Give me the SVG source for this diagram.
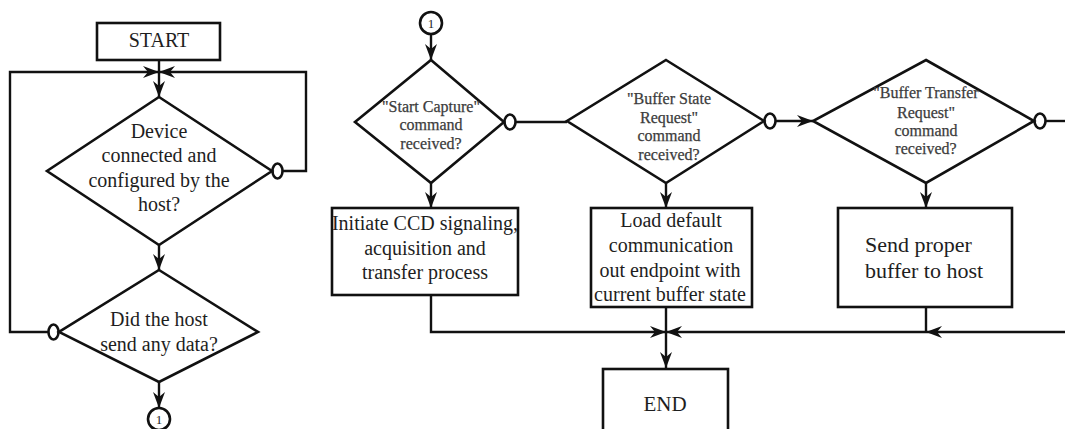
<svg xmlns="http://www.w3.org/2000/svg" width="1065" height="429" viewBox="0 0 1065 429">
<style>
.shape{fill:none;stroke:#111;stroke-width:2.6}
.line{fill:none;stroke:#111;stroke-width:2.4}
.t{font-family:"Liberation Serif","Times New Roman",serif;font-size:20px;fill:#1e1e1e;text-anchor:middle}
.s{font-family:"Liberation Serif","Times New Roman",serif;font-size:16px;fill:#3c3c3c;text-anchor:middle;stroke:#3c3c3c;stroke-width:0.25}
.b{font-size:22px}
</style>
<defs>
<marker id="arr" viewBox="0 0 16 12" refX="16" refY="6" markerWidth="16" markerHeight="12" markerUnits="userSpaceOnUse" orient="auto">
<path d="M0,0 L16,6 L0,12 L5,6 Z" fill="#111"/>
</marker>
</defs>
<rect width="1065" height="429" fill="#fff"/>
<g id="start"><rect class="shape" x="97" y="23" width="123" height="37"/><text class="t" x="159" y="47">START</text></g>
<g id="d1"><polygon class="shape" points="159,97 272,171 159,245 47,171"/>
<text class="t" x="159" y="138">Device</text><text class="t" x="159" y="162">connected and</text><text class="t" x="159" y="187">configured by the</text><text class="t" x="159" y="211">host?</text></g>
<g id="d2"><polygon class="shape" points="159,270 258,332 159,382 59,332"/>
<text class="t" x="159" y="326">Did the host</text><text class="t" x="159" y="351">send any data?</text></g>
<g id="c1"><circle class="shape" cx="159" cy="419" r="11"/><text class="t" x="159" y="424" style="font-size:13px">1</text></g>
<g id="c2"><circle class="shape" cx="431" cy="23" r="11"/><text class="t" x="431" y="28" style="font-size:13px">1</text></g>
<g id="d3"><polygon class="shape" points="431,60 504,122 431,183 355,122"/>
<text class="s" x="431" y="112">"Start Capture"</text><text class="s" x="431" y="130">command</text><text class="s" x="431" y="149">received?</text></g>
<g id="d4"><polygon class="shape" points="666,60 764,121 666,183 567,121"/>
<text class="s" x="669" y="104">"Buffer State</text><text class="s" x="669" y="123">Request"</text><text class="s" x="669" y="141">command</text><text class="s" x="669" y="160">received?</text></g>
<g id="d5"><polygon class="shape" points="926,60 1034,121 926,183 813,121"/>
<text class="s" x="926" y="98">"Buffer Transfer</text><text class="s" x="926" y="118">Request"</text><text class="s" x="926" y="136">command</text><text class="s" x="926" y="154">received?</text></g>
<g id="r1"><rect class="shape" x="332" y="208" width="186" height="87"/>
<text class="t" x="425" y="230">Initiate CCD signaling,</text><text class="t" x="425" y="255">acquisition and</text><text class="t" x="425" y="279">transfer process</text></g>
<g id="r2"><rect class="shape" x="591" y="208" width="161" height="99"/>
<text class="t" x="671" y="227">Load default</text><text class="t" x="671" y="252">communication</text><text class="t" x="670" y="277">out endpoint with</text><text class="t" x="670" y="301">current buffer state</text></g>
<g id="r3"><rect class="shape" x="838" y="208" width="174" height="99"/>
<text class="t b" x="865" y="252" style="text-anchor:start">Send proper</text><text class="t b" x="865" y="278" style="text-anchor:start">buffer to host</text></g>
<g id="end"><rect class="shape" x="603" y="369" width="125" height="80"/><text class="t" x="665" y="411" style="font-size:21px">END</text></g>
<g id="connectors">
<path class="line" d="M159,60 V97" marker-end="url(#arr)"/>
<ellipse class="shape" cx="277.5" cy="171" rx="5" ry="7.5"/>
<path class="line" d="M282.5,171 H306 V72 H159" marker-end="url(#arr)"/>
<ellipse class="shape" cx="53.5" cy="332" rx="5" ry="7.5"/>
<path class="line" d="M48.5,332 H10 V72 H159" marker-end="url(#arr)"/>
<path class="line" d="M159,245 V270" marker-end="url(#arr)"/>
<path class="line" d="M159,382 V408" marker-end="url(#arr)"/>
<path class="line" d="M431,34 V60" marker-end="url(#arr)"/>
<ellipse class="shape" cx="510" cy="122" rx="5.5" ry="7.5"/>
<path class="line" d="M515.5,122 H567"/>
<ellipse class="shape" cx="770" cy="121" rx="5.5" ry="7.5"/>
<path class="line" d="M775.5,121 H813" marker-end="url(#arr)"/>
<ellipse class="shape" cx="1040" cy="121" rx="5.5" ry="7.5"/>
<path class="line" d="M1045.5,121 H1065"/>
<path class="line" d="M431,183 V208" marker-end="url(#arr)"/>
<path class="line" d="M666,183 V208" marker-end="url(#arr)"/>
<path class="line" d="M926,183 V208" marker-end="url(#arr)"/>
<path class="line" d="M431,295 V332 H666" marker-end="url(#arr)"/>
<path class="line" d="M666,307 V332"/>
<path class="line" d="M666,332 V368" marker-end="url(#arr)"/>
<path class="line" d="M926,307 V332"/>
<path class="line" d="M1065,332 H926" marker-end="url(#arr)"/>
<path class="line" d="M926,332 H666" marker-end="url(#arr)"/>
</g>
</svg>
